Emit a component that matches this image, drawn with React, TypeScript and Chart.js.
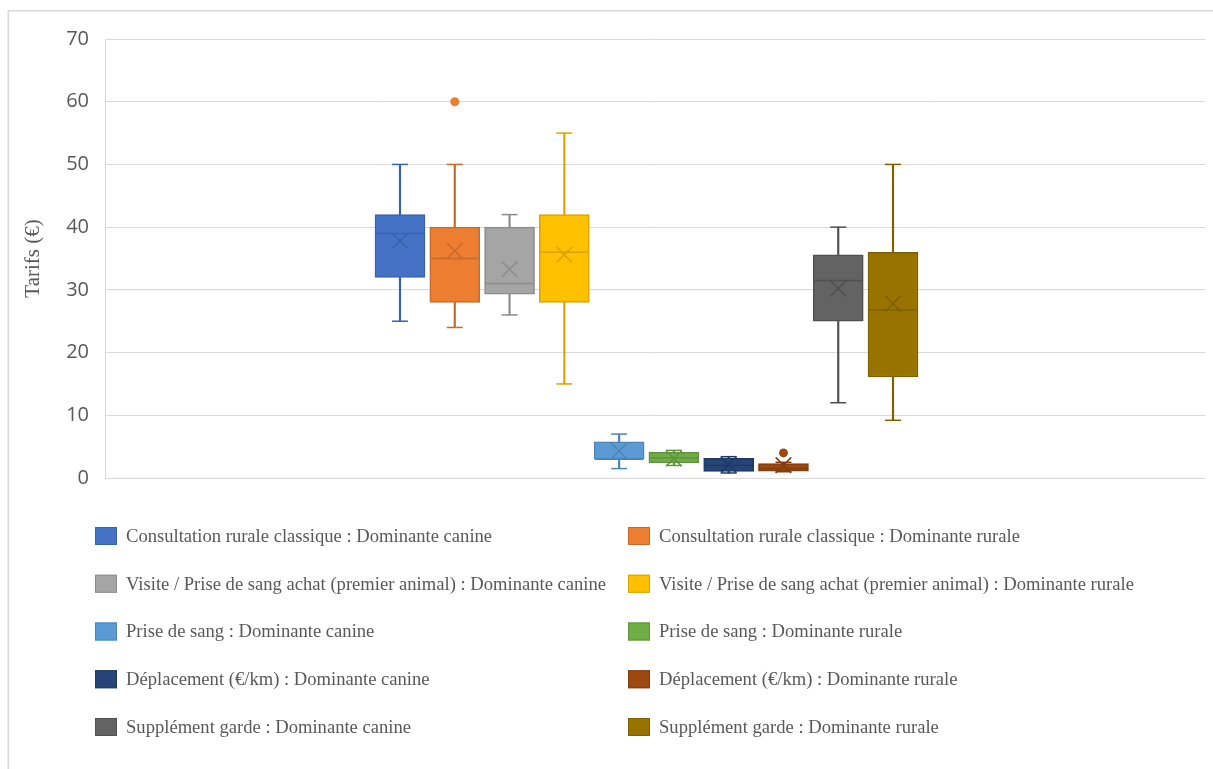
import React, { useEffect, useRef } from 'react';
import { Chart, registerables } from 'chart.js';

Chart.register(...registerables);

// ---- Data ----
const seriesNames = [
  'Consultation rurale classique : Dominante canine',
  'Consultation rurale classique : Dominante rurale',
  'Visite / Prise de sang achat (premier animal) : Dominante canine',
  'Visite / Prise de sang achat (premier animal) : Dominante rurale',
  'Prise de sang : Dominante canine',
  'Prise de sang : Dominante rurale',
  'Déplacement (€/km) : Dominante canine',
  'Déplacement (€/km) : Dominante rurale',
  'Supplément garde : Dominante canine',
  'Supplément garde : Dominante rurale',
];
const mins = [25, 24, 26, 15, 1.5, 2, 0.8, 1, 12, 9.2];
const q1s = [32, 28, 29.3, 28, 3, 2.4, 1.05, 1.1, 25, 16.1];
const medians = [39, 35, 31, 36, 3, 3.2, 2, 1.5, 31.5, 26.8];
const means = [37.8, 36.2, 33.3, 35.6, 4.3, 3.1, 2.1, 2.05, 30.2, 27.8];
const q3s = [42, 40, 40, 42, 5.75, 4.1, 3.15, 2.3, 35.6, 36];
const maxs = [50, 50, 42, 55, 7, 4.4, 3.4, 2.5, 40, 50];
const outliers: number[][] = [[], [60], [], [], [], [], [], [4], [], []];

const yMin = 0;
const yMax = 70;
const yStep = 10;
const yTitle = 'Tarifs (€)';

// ---- Styles ----
const fillColors = ['#4472C4', '#ED7D31', '#A5A5A5', '#FFC000', '#5B9BD5', '#70AD47', '#264478', '#9E480E', '#636363', '#997300'];
const lineColors = ['#3A62AB', '#C9692A', '#8C8C8C', '#D9A300', '#4D84B5', '#5F933C', '#1F3963', '#843C0C', '#505050', '#7F6000'];
const textColor = '#595959';
const gridColor = '#d9d9d9';

const W = 1213;
const H = 769;

const legendColX = [95, 628];
const legendRow0 = 536;
const legendRowGap = 47.75;

const framePlugin = {
  id: 'frameAndLegend',
  beforeDraw(chart: any) {
    const { ctx, width, height } = chart;
    ctx.save();
    ctx.fillStyle = '#ffffff';
    ctx.fillRect(0, 0, width, height);
    ctx.strokeStyle = '#d9d9d9';
    ctx.lineWidth = 1.5;
    ctx.beginPath();
    ctx.moveTo(8.25, height);
    ctx.lineTo(8.25, 10.75);
    ctx.lineTo(width, 10.75);
    ctx.stroke();
    ctx.restore();
  },
  afterDraw(chart: any) {
    const ctx = chart.ctx;
    ctx.save();
    ctx.font = '18.6px "Liberation Serif"';
    ctx.textBaseline = 'middle';
    ctx.textAlign = 'left';
    seriesNames.forEach((name, i) => {
      const col = i % 2;
      const row = Math.floor(i / 2);
      const bx = legendColX[col];
      const cy = legendRow0 + row * legendRowGap;
      ctx.fillStyle = fillColors[i];
      ctx.fillRect(bx, cy - 9, 22, 18);
      ctx.strokeStyle = lineColors[i];
      ctx.lineWidth = 1;
      ctx.strokeRect(bx + 0.5, cy - 8.5, 21, 17);
      ctx.fillStyle = textColor;
      ctx.fillText(name, bx + 31, cy + 1);
    });
    ctx.restore();
  },
};

export default function App() {
  const ref = useRef<HTMLCanvasElement | null>(null);

  useEffect(() => {
    if (!ref.current) return;
    const idx = seriesNames.map((_, i) => i);

    const whiskers: any = {
      type: 'bar',
      label: 'whiskers',
      data: idx.map((i) => ({ x: i, y: [mins[i], maxs[i]] })),
      backgroundColor: lineColors,
      borderWidth: 0,
      barThickness: 1.5,
      grouped: false,
      order: 6,
    };
    const boxes: any[] = seriesNames.map((name, i) => ({
      type: 'bar',
      label: name,
      data: [{ x: i, y: [q1s[i], q3s[i]] }],
      backgroundColor: fillColors[i],
      borderColor: lineColors[i],
      borderWidth: 1.5,
      borderSkipped: false,
      barThickness: 50,
      grouped: false,
      order: 5,
    }));
    const caps: any = {
      type: 'scatter',
      label: 'caps',
      data: [...idx.map((i) => ({ x: i, y: maxs[i] })), ...idx.map((i) => ({ x: i, y: mins[i] }))],
      pointStyle: 'line',
      pointRadius: 8,
      pointBorderWidth: 1.5,
      pointBorderColor: [...lineColors, ...lineColors],
      order: 4,
    };
    const medianSet: any = {
      type: 'scatter',
      label: 'median',
      data: idx.map((i) => ({ x: i, y: medians[i] })),
      pointStyle: 'line',
      pointRadius: 24,
      pointBorderWidth: 1.5,
      pointBorderColor: lineColors,
      order: 3,
    };
    const meanSet: any = {
      type: 'scatter',
      label: 'mean',
      data: idx.map((i) => ({ x: i, y: means[i] })),
      pointStyle: 'crossRot',
      pointRadius: 11,
      pointBorderWidth: 1.5,
      pointBorderColor: lineColors,
      order: 2,
    };
    const outPts: any[] = [];
    const outColors: string[] = [];
    outliers.forEach((vals, i) => vals.forEach((v) => { outPts.push({ x: i, y: v }); outColors.push(fillColors[i]); }));
    const outSet: any = {
      type: 'scatter',
      label: 'outliers',
      data: outPts,
      pointStyle: 'circle',
      pointRadius: 4.5,
      pointBorderWidth: 0,
      pointBackgroundColor: outColors,
      pointBorderColor: outColors,
      order: 1,
    };

    const chart = new Chart(ref.current, {
      type: 'bar',
      data: { datasets: [whiskers, ...boxes, caps, medianSet, meanSet, outSet] },
      options: {
        animation: false,
        responsive: false,
        devicePixelRatio: 1,
        events: [],
        layout: { autoPadding: false, padding: { left: 8, top: 39, right: 8, bottom: 291 } },
        plugins: { legend: { display: false }, tooltip: { enabled: false } },
        scales: {
          x: { type: 'linear', display: false, offset: false, min: -5.385, max: 14.695 },
          y: {
            min: yMin,
            max: yMax,
            ticks: { stepSize: yStep, padding: 16, color: textColor, font: { family: 'Open Sans', size: 20 } },
            grid: { color: gridColor, lineWidth: 1, drawTicks: false },
            border: { display: true, color: gridColor, width: 1 },
            title: {
              display: true,
              text: yTitle,
              color: textColor,
              font: { family: 'Liberation Serif', size: 21 },
              padding: { top: 13, bottom: 0 },
            },
            afterFit(scale: any) { scale.width = 97; },
          },
        },
      } as any,
      plugins: [framePlugin],
    });
    return () => chart.destroy();
  }, []);

  return (
    <div style={{ position: 'fixed', left: 0, top: 0, width: W, height: H, background: '#fff' }}>
      <canvas ref={ref} width={W} height={H} style={{ display: 'block', width: W, height: H }} />
    </div>
  );
}
